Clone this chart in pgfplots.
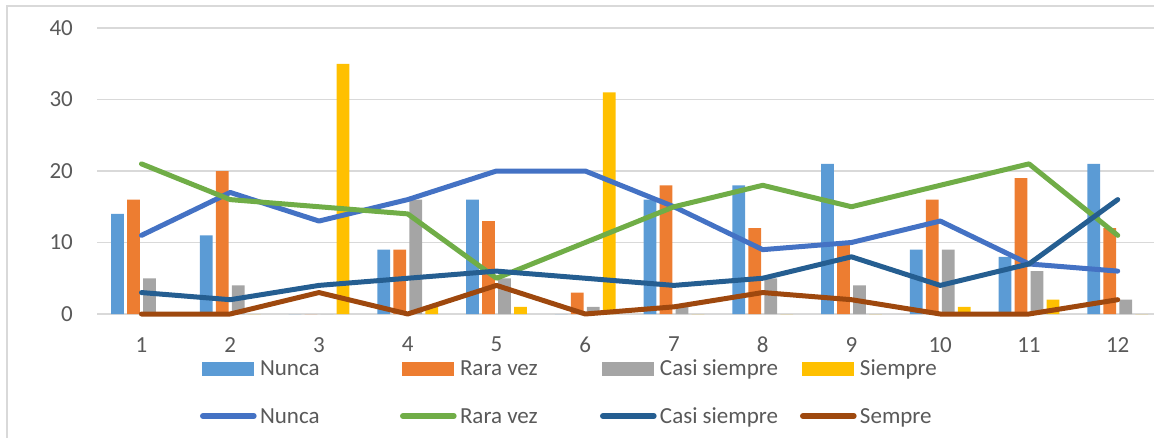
\documentclass[border=0pt]{standalone}
\usepackage{pgfplots}
\pgfplotsset{compat=1.18}
\usepackage{fontspec}
\setmainfont{Carlito}
\definecolor{bNunca}{HTML}{5B9BD5}
\definecolor{bRara}{HTML}{ED7D31}
\definecolor{bCasi}{HTML}{A5A5A5}
\definecolor{bSiempre}{HTML}{FFC000}
\definecolor{lNunca}{HTML}{4472C4}
\definecolor{lRara}{HTML}{70AD47}
\definecolor{lCasi}{HTML}{255E91}
\definecolor{lSempre}{HTML}{9E480E}
\definecolor{txt}{HTML}{595959}
\definecolor{gridc}{HTML}{D9D9D9}
\begin{document}
\begin{tikzpicture}
\useasboundingbox (0,0) rectangle (1154pt,-438pt);
\draw[gridc, line width=1.6pt] (7pt,-440pt) -- (7pt,-6pt) -- (1160pt,-6pt);
\begin{axis}[
  at={(97.1pt,-314pt)}, anchor=south west,
  scale only axis, width=1065pt, height=286pt,
  xmin=0.5, xmax=12.5, ymin=0, ymax=40,
  clip=false,
  axis line style={draw=none},
  major tick length=0pt,
  ytick={0,10,20,30,40},
  xtick={1,...,12},
  ymajorgrids, xmajorgrids=false,
  major grid style={draw=gridc, line width=1.5pt},
  /pgf/number format/assume math mode=true,
  tick label style={font=\fontsize{23}{27}\selectfont, text=txt, inner sep=0pt},
  yticklabel style={anchor=east, xshift=-24pt},
  xticklabel style={anchor=north, yshift=-23pt},
  legend columns=4,
  legend style={at={(0.09662,-0.1598)}, anchor=north west, draw=none, fill=none,
    inner sep=0pt, outer sep=0pt, column sep=3.3pt, row sep=26.3pt,
    font=\fontsize{23}{27}\selectfont, text=txt,
    nodes={inner sep=0pt, anchor=base west, text height=16pt, text depth=5pt},
    /tikz/every even column/.append style={column sep=0pt}},
]
\addplot[ybar, bar width=12.6pt, bar shift=-24pt, fill=bNunca, draw=none,
  legend image code/.code={\fill[bNunca] (0pt,0pt) rectangle (52pt,14pt);}]
  coordinates {(1,14) (2,11) (3,0) (4,9) (5,16) (6,0) (7,16) (8,18) (9,21) (10,9) (11,8) (12,21)};
\addlegendentry{\makebox[140pt][l]{Nunca}}
\addplot[ybar, bar width=12.6pt, bar shift=-8pt, fill=bRara, draw=none,
  legend image code/.code={\fill[bRara] (0pt,0pt) rectangle (52pt,14pt);}]
  coordinates {(1,16) (2,20) (3,0) (4,9) (5,13) (6,3) (7,18) (8,12) (9,10) (10,16) (11,19) (12,12)};
\addlegendentry{\makebox[140pt][l]{Rara vez}}
\addplot[ybar, bar width=12.6pt, bar shift=8pt, fill=bCasi, draw=none,
  legend image code/.code={\fill[bCasi] (0pt,0pt) rectangle (52pt,14pt);}]
  coordinates {(1,5) (2,4) (3,0) (4,16) (5,5) (6,1) (7,1) (8,5) (9,4) (10,9) (11,6) (12,2)};
\addlegendentry{\makebox[140pt][l]{Casi siempre}}
\addplot[ybar, bar width=12.6pt, bar shift=24pt, fill=bSiempre, draw=none,
  legend image code/.code={\fill[bSiempre] (0pt,0pt) rectangle (52pt,14pt);}]
  coordinates {(1,0) (2,0) (3,35) (4,1) (5,1) (6,31) (7,0) (8,0) (9,0) (10,1) (11,2) (12,0)};
\addlegendentry{\makebox[140pt][l]{Siempre}}
\addplot[lNunca, line width=5pt, line join=round, line cap=round, mark=none,
  legend image code/.code={\draw[lNunca, line width=6pt, line cap=round] (1pt,7pt) -- (51.7pt,7pt);}]
  coordinates {(1,11) (2,17) (3,13) (4,16) (5,20) (6,20) (7,15) (8,9) (9,10) (10,13) (11,7) (12,6)};
\addlegendentry{\makebox[140pt][l]{Nunca}}
\addplot[lRara, line width=5pt, line join=round, line cap=round, mark=none,
  legend image code/.code={\draw[lRara, line width=6pt, line cap=round] (1pt,7pt) -- (51.7pt,7pt);}]
  coordinates {(1,21) (2,16) (3,15) (4,14) (5,5) (6,10) (7,15) (8,18) (9,15) (10,18) (11,21) (12,11)};
\addlegendentry{\makebox[140pt][l]{Rara vez}}
\addplot[lCasi, line width=5pt, line join=round, line cap=round, mark=none,
  legend image code/.code={\draw[lCasi, line width=6pt, line cap=round] (1pt,7pt) -- (51.7pt,7pt);}]
  coordinates {(1,3) (2,2) (3,4) (4,5) (5,6) (6,5) (7,4) (8,5) (9,8) (10,4) (11,7) (12,16)};
\addlegendentry{\makebox[140pt][l]{Casi siempre}}
\addplot[lSempre, line width=5pt, line join=round, line cap=round, mark=none,
  legend image code/.code={\draw[lSempre, line width=6pt, line cap=round] (1pt,7pt) -- (51.7pt,7pt);}]
  coordinates {(1,0) (2,0) (3,3) (4,0) (5,4) (6,0) (7,1) (8,3) (9,2) (10,0) (11,0) (12,2)};
\addlegendentry{\makebox[140pt][l]{Sempre}}
\end{axis}
\end{tikzpicture}
\end{document}
